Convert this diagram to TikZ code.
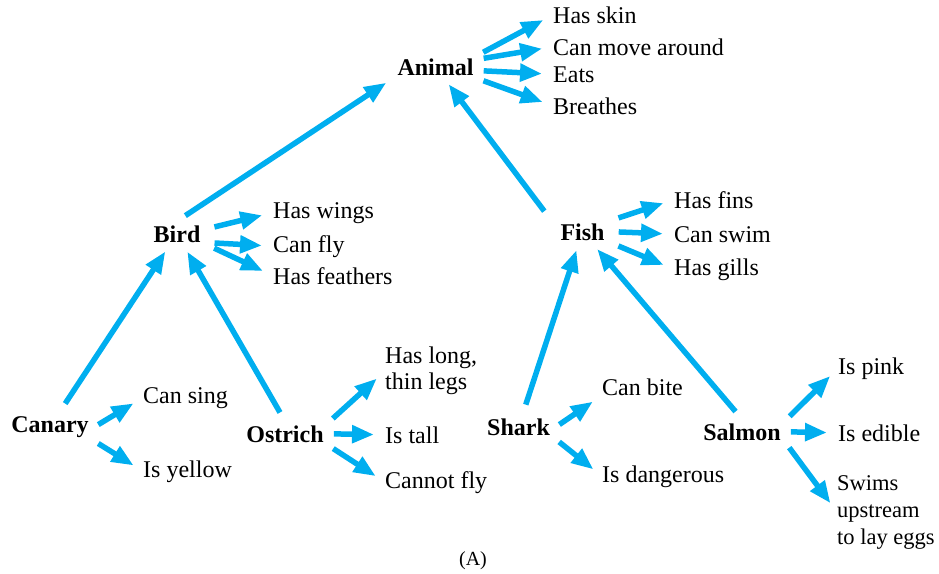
\documentclass[tikz,border=0pt]{standalone}
\usepackage{fontspec}
\setmainfont{Liberation Serif}
\usetikzlibrary{arrows.meta}

\definecolor{linkblue}{RGB}{0,174,239}

\tikzset{
    kind/.style={font=\fontsize{24}{26}\selectfont\bfseries, anchor=base,
        inner xsep=6pt, inner ysep=4pt},
    fact/.style={anchor=base west, inner sep=0pt},
    fan/.style={draw=linkblue, line width=5.5pt, -{Triangle[length=22pt,width=17pt]},
        shorten <=4pt, shorten >=11pt},
    isa/.style={fan, shorten <=10pt, shorten >=6pt}
}

\begin{document}
\begin{tikzpicture}[x=1pt, y=-1pt, font=\fontsize{24}{26}\selectfont]
    \useasboundingbox (0,0) rectangle (939,573);

    % categories
    \foreach \name/\x/\y/\sep/\desc in {animal/435.5/75/6/Animal, bird/177/242/10/Bird,
            fish/582.5/240/10/Fish, canary/50/432/6/Canary, ostrich/285/442/6/Ostrich,
            shark/518.5/435/6/Shark, salmon/742/440/6/Salmon} {
        \node[kind, inner xsep=\sep pt] (\name) at (\x,\y) {\desc};
    }

    % properties
    \foreach \name/\x/\y/\desc in {skin/553/23/Has skin, move/553/55/Can move around,
            eats/553/82/Eats, breathes/553/114/Breathes,
            wings/273/218/Has wings, fly/273/252/Can fly, feathers/273/284/Has feathers,
            fins/674/208/Has fins, swim/674/242/Can swim, gills/674/275/Has gills,
            sing/143/403/Can sing, yellow/143/477/Is yellow,
            tall/385/443/Is tall, nofly/385/488/Cannot fly,
            bite/602/395/Can bite, danger/602/482/Is dangerous,
            pink/838/374/Is pink, edible/838/441/Is edible} {
        \node[fact] (\name) at (\x,\y) {\desc};
    }
    \node[fact, anchor=north west, align=left] (legs) at (385,347) {Has long,\\thin legs};
    \node[fact, anchor=north west, align=left, font=\fontsize{22.5}{27}\selectfont]
        (swims) at (837,475) {Swims\\upstream\\to lay eggs};

    \foreach \from/\to in {animal.north east/skin.west, animal.10/move.west,
            animal.-5/eats.west, animal.south east/breathes.west,
            bird.10/wings.west, bird.-15/fly.west, bird.south east/feathers.west,
            fish.north east/fins.west, fish.east/swim.west, fish.south east/gills.west,
            canary.east/sing.west, canary.south east/yellow.west,
            ostrich.north east/legs.west, ostrich.east/tall.west, ostrich.south east/nofly.west,
            shark.east/bite.south west, shark.south east/danger.west,
            salmon.north east/pink.west, salmon.east/edible.west, salmon.south east/swims.west} {
        \draw[fan] (\from) -- (\to);
    }

    % is-a links
    \draw[isa] (bird.north) -- (animal.south west);
    \draw[isa] (fish.north west) -- (animal);
    \draw[isa] (canary) -- (bird);
    \draw[isa] (ostrich.north) -- (bird);
    \draw[isa] (shark) -- (fish);
    \draw[isa] (salmon.north) -- (fish);

    \node[anchor=base, font=\fontsize{20}{24}\selectfont] (caption) at (473,565) {(A)};
\end{tikzpicture}
\end{document}
